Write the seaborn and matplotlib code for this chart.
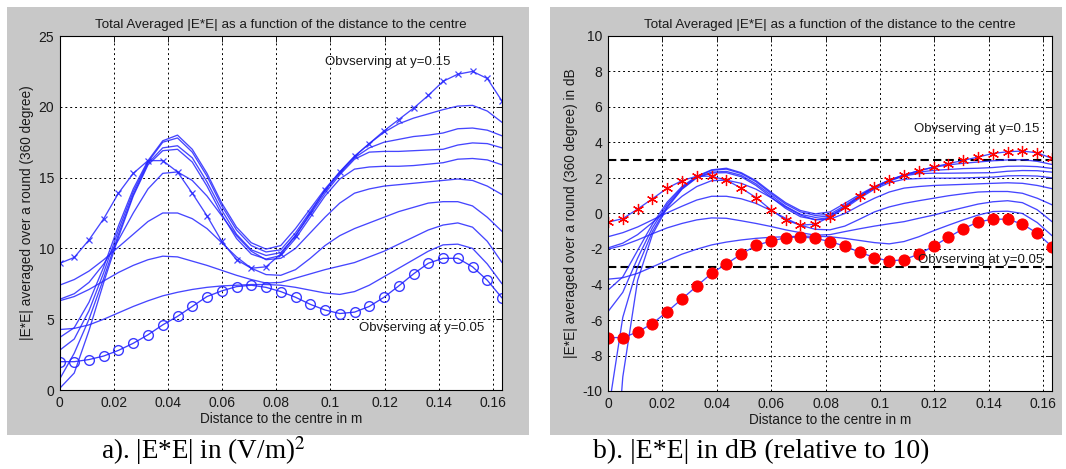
import matplotlib
matplotlib.use("Agg")
import matplotlib.pyplot as plt
import seaborn as sns
from matplotlib.patches import Rectangle

# ---------------- data ----------------
distance = [0.0, 0.00544, 0.01089, 0.01633, 0.02177, 0.02722, 0.03266, 0.0381,
            0.04355, 0.04899, 0.05443, 0.05988, 0.06532, 0.07077, 0.07621, 0.08165,
            0.0871, 0.09254, 0.09799, 0.10343, 0.10887, 0.11432, 0.11976, 0.1252,
            0.13065, 0.13609, 0.14154, 0.14698, 0.15242, 0.15787, 0.16331]

# panel a: |E*E| in (V/m)^2
lin_y015 = [8.94, 9.36, 10.6, 12.1, 13.9, 15.3, 16.2, 16.2, 15.4, 13.9, 12.3, 10.5, 9.2, 8.6, 8.7,
            9.6, 10.9, 12.5, 14.1, 15.4, 16.5, 17.4, 18.3, 19.1, 19.9, 20.8, 21.8, 22.3, 22.5, 22.0, 20.4]
lin_y005 = [2.0, 2.0, 2.15, 2.4, 2.8, 3.3, 3.9, 4.6, 5.2, 5.9, 6.6, 7.0, 7.3, 7.4, 7.25,
            6.95, 6.55, 6.05, 5.65, 5.4, 5.5, 5.9, 6.55, 7.35, 8.2, 8.95, 9.3, 9.3, 8.7, 7.75, 6.5]
lin_l1 = [3.7, 4.4, 6.2, 8.7, 11.6, 14.2, 16.2, 17.6, 18.0, 17.0, 15.3, 13.2, 11.5, 10.4, 9.95,
          10.2, 11.4, 12.8, 14.2, 15.4, 16.5, 17.4, 18.2, 18.8, 19.2, 19.5, 19.8, 20.05, 20.1, 19.7, 18.9]
lin_l2 = [2.8, 3.6, 5.6, 8.3, 11.3, 14.0, 16.1, 17.5, 17.8, 16.8, 15.1, 13.0, 11.3, 10.2, 9.75,
          9.9, 11.1, 12.6, 14.1, 15.3, 16.4, 17.1, 17.5, 17.7, 17.9, 18.0, 18.15, 18.45, 18.5, 18.35, 17.95]
lin_l3 = [0.75, 2.6, 5.0, 7.9, 11.0, 13.8, 16.0, 17.1, 17.25, 16.4, 14.7, 12.7, 11.0, 9.9, 9.5,
          9.7, 10.9, 12.4, 13.9, 15.2, 16.3, 16.8, 16.85, 16.85, 16.9, 16.95, 17.0, 17.3, 17.45, 17.4, 17.1]
lin_l4 = [0.1, 1.2, 4.2, 7.6, 10.8, 13.7, 15.9, 16.9, 17.0, 16.1, 14.4, 12.4, 10.7, 9.6, 9.25,
          9.5, 10.7, 12.2, 13.7, 14.9, 15.6, 15.75, 15.8, 15.8, 15.85, 15.95, 16.05, 16.3, 16.35, 16.25, 15.9]
lin_l5 = [6.4, 6.8, 7.6, 8.9, 10.6, 12.5, 14.2, 15.3, 15.4, 14.8, 13.7, 12.3, 10.9, 9.8, 9.2,
          9.3, 10.0, 11.1, 12.2, 13.2, 13.9, 14.2, 14.4, 14.5, 14.6, 14.7, 14.8, 14.9, 14.8, 14.4, 13.8]
lin_l6 = [7.4, 7.8, 8.4, 9.2, 10.1, 11.0, 11.9, 12.5, 12.5, 12.1, 11.4, 10.4, 9.4, 8.6, 8.15,
          8.1, 8.5, 9.3, 10.2, 10.9, 11.4, 11.8, 12.2, 12.6, 12.9, 13.2, 13.3, 13.3, 13.0, 12.2, 11.2]
lin_l7 = [6.3, 6.6, 7.1, 7.7, 8.3, 8.8, 9.2, 9.45, 9.4, 9.1, 8.8, 8.45, 8.1, 7.8, 7.55,
          7.6, 7.9, 8.2, 8.5, 8.75, 9.0, 9.4, 9.8, 10.3, 10.8, 11.3, 11.65, 11.8, 11.5, 10.5, 9.0]
lin_l8 = [4.27, 4.35, 4.6, 5.0, 5.45, 5.9, 6.3, 6.65, 6.9, 7.1, 7.25, 7.35, 7.4, 7.45, 7.45,
          7.4, 7.25, 7.05, 6.85, 6.75, 6.95, 7.4, 8.0, 8.6, 9.2, 9.8, 10.25, 10.3, 10.0, 8.9, 7.5]

# panel b: |E*E| in dB (relative to 10)
db_y015 = [-0.49, -0.29, 0.25, 0.83, 1.43, 1.85, 2.10, 2.10, 1.88, 1.43, 0.90, 0.21, -0.36, -0.66, -0.60,
           -0.18, 0.37, 0.97, 1.49, 1.88, 2.17, 2.41, 2.62, 2.81, 2.99, 3.18, 3.38, 3.48, 3.52, 3.42, 3.10]
db_y005 = [-6.99, -6.99, -6.68, -6.20, -5.53, -4.81, -4.09, -3.37, -2.84, -2.29, -1.80, -1.55, -1.37, -1.31, -1.40,
           -1.58, -1.84, -2.18, -2.48, -2.68, -2.60, -2.29, -1.84, -1.34, -0.86, -0.48, -0.32, -0.32, -0.60, -1.11, -1.87]
db_l1 = [-4.32, -3.57, -2.08, -0.60, 0.64, 1.52, 2.10, 2.46, 2.55, 2.30, 1.85, 1.21, 0.61, 0.17, -0.02,
         0.09, 0.57, 1.07, 1.52, 1.88, 2.17, 2.41, 2.60, 2.74, 2.83, 2.90, 2.97, 3.02, 3.03, 2.94, 2.76]
db_l2 = [-5.53, -4.44, -2.52, -0.81, 0.53, 1.46, 2.07, 2.43, 2.50, 2.25, 1.79, 1.14, 0.53, 0.09, -0.11,
         -0.04, 0.45, 1.00, 1.49, 1.85, 2.15, 2.33, 2.43, 2.48, 2.53, 2.55, 2.59, 2.66, 2.67, 2.64, 2.54]
db_l3 = [-11.25, -5.85, -3.01, -1.02, 0.41, 1.40, 2.04, 2.33, 2.37, 2.15, 1.67, 1.04, 0.41, -0.04, -0.22,
         -0.13, 0.37, 0.93, 1.43, 1.82, 2.12, 2.25, 2.27, 2.27, 2.28, 2.29, 2.30, 2.38, 2.42, 2.41, 2.33]
db_l4 = [-20.0, -9.21, -3.77, -1.19, 0.33, 1.37, 2.01, 2.28, 2.30, 2.07, 1.58, 0.93, 0.29, -0.18, -0.34,
         -0.22, 0.29, 0.86, 1.37, 1.73, 1.93, 1.97, 1.99, 1.99, 2.00, 2.03, 2.05, 2.12, 2.13, 2.11, 2.01]
db_l5 = [-1.94, -1.67, -1.19, -0.51, 0.25, 0.97, 1.52, 1.85, 1.88, 1.70, 1.37, 0.90, 0.37, -0.09, -0.36,
         -0.32, 0.00, 0.45, 0.86, 1.21, 1.43, 1.52, 1.58, 1.61, 1.64, 1.67, 1.70, 1.73, 1.70, 1.58, 1.40]
db_l6 = [-1.31, -1.08, -0.76, -0.36, 0.04, 0.41, 0.76, 0.97, 0.97, 0.83, 0.57, 0.17, -0.27, -0.66, -0.89,
         -0.92, -0.71, -0.32, 0.09, 0.37, 0.57, 0.72, 0.86, 1.00, 1.11, 1.21, 1.24, 1.24, 1.14, 0.86, 0.49]
db_l7 = [-2.01, -1.80, -1.49, -1.14, -0.81, -0.56, -0.36, -0.25, -0.27, -0.41, -0.56, -0.73, -0.92, -1.08, -1.22,
         -1.19, -1.02, -0.86, -0.71, -0.58, -0.46, -0.27, -0.09, 0.13, 0.33, 0.53, 0.66, 0.72, 0.61, 0.21, -0.46]
db_l8 = [-3.70, -3.62, -3.37, -3.01, -2.64, -2.29, -2.01, -1.77, -1.61, -1.49, -1.40, -1.34, -1.31, -1.28, -1.28,
         -1.31, -1.40, -1.52, -1.64, -1.71, -1.58, -1.31, -0.97, -0.66, -0.36, -0.09, 0.11, 0.13, 0.00, -0.51, -1.25]
db_limits = [3, -3]

x_ticks = [0, 0.02, 0.04, 0.06, 0.08, 0.10, 0.12, 0.14, 0.16]
x_tick_labels = ["0", "0.02", "0.04", "0.06", "0.08", "0.1", "0.12", "0.14", "0.16"]
lin_ticks = [0, 5, 10, 15, 20, 25]
db_ticks = [-10, -8, -6, -4, -2, 0, 2, 4, 6, 8, 10]

title = "Total Averaged |E*E| as a function of the distance to the centre"
xlabel = "Distance to the centre in m"
ylabel_a = "|E*E| averaged over a round (360 degree)"
ylabel_b = "|E*E| averaged over a round (360 degree) in dB"
note_hi = "Obvserving at y=0.15"
note_lo = "Obvserving at y=0.05"
caption_a = "a). |E*E| in (V/m)$^2$"
caption_b = "b). |E*E| in dB (relative to 10)"

# ---------------- style ----------------
sns.set_theme(style="white")
plt.rcParams['font.family'] = ['Liberation Sans', 'DejaVu Sans']
plt.rcParams['axes.unicode_minus'] = False
plt.rcParams['mathtext.fontset'] = 'stix'

W, H = 1066, 469
fig = plt.figure(figsize=(W / 100, H / 100), dpi=100)
fig.patch.set_facecolor('white')
GRAY = '#c8c8c8'
fig.add_artist(Rectangle((7 / W, (H - 435) / H), (529 - 7) / W, (435 - 7) / H,
                         transform=fig.transFigure, facecolor=GRAY, edgecolor='none', zorder=-5))
fig.add_artist(Rectangle((550 / W, (H - 435) / H), (1062 - 550) / W, (435 - 7) / H,
                         transform=fig.transFigure, facecolor=GRAY, edgecolor='none', zorder=-5))

axA = fig.add_axes([59.5 / W, (H - 390) / H, 442.5 / W, 354 / H])
axB = fig.add_axes([608 / W, (H - 391) / H, 444 / W, 355 / H])

BLUE = (0.15, 0.15, 1.0)
LW = 0.95
TXT = '#1a1a1a'


def style_axes(ax, yticks, ylabel, ylim):
    ax.set_facecolor('white')
    ax.set_xlim(0, 0.1633)
    ax.set_ylim(*ylim)
    ax.set_xticks(x_ticks, x_tick_labels)
    ax.set_yticks(yticks, [str(t) for t in yticks])
    ax.grid(True, color='black', linestyle=(0, (2, 3)), linewidth=0.7)
    for s in ax.spines.values():
        s.set_color('black')
        s.set_linewidth(0.8)
    ax.tick_params(direction='in', length=4, width=0.7, colors=TXT, labelsize=10,
                   top=True, right=True, pad=4)
    ax.set_title(title, fontsize=9.6, pad=6, color=TXT)
    ax.set_xlabel(xlabel, fontsize=9.8, labelpad=2, color=TXT)
    ax.set_ylabel(ylabel, fontsize=9.8, labelpad=3, color=TXT)


# ---------------- panel a ----------------
for vals in [lin_l1, lin_l2, lin_l3, lin_l4, lin_l5, lin_l6, lin_l7, lin_l8]:
    sns.lineplot(x=distance, y=vals, ax=axA, color=BLUE, linewidth=LW, alpha=0.85,
                 estimator=None, sort=False)
sns.lineplot(x=distance, y=lin_y015, ax=axA, color=BLUE, linewidth=LW, alpha=0.85,
             estimator=None, sort=False, marker='x', markersize=5, markeredgewidth=0.9,
             markeredgecolor=BLUE)
sns.lineplot(x=distance, y=lin_y005, ax=axA, color=BLUE, linewidth=LW, alpha=0.9,
             estimator=None, sort=False, marker='o', markersize=7, markerfacecolor='none',
             markeredgewidth=1.0, markeredgecolor=BLUE)
style_axes(axA, lin_ticks, ylabel_a, (0, 25))
axA.text(0.098, 23.13, note_hi, fontsize=9.5, va='center', ha='left', color=TXT)
axA.text(0.1106, 4.35, note_lo, fontsize=9.5, va='center', ha='left', color=TXT)

# ---------------- panel b ----------------
for lvl in db_limits:
    axB.axhline(lvl, color='black', linewidth=1.5, linestyle=(0, (4, 2)), zorder=2)
for vals in [db_l1, db_l2, db_l3, db_l4, db_l5, db_l6, db_l7, db_l8]:
    sns.lineplot(x=distance, y=vals, ax=axB, color=BLUE, linewidth=LW, alpha=0.85,
                 estimator=None, sort=False)
sns.lineplot(x=distance, y=db_y015, ax=axB, color=BLUE, linewidth=LW, alpha=0.85,
             estimator=None, sort=False)
sns.lineplot(x=distance, y=db_y005, ax=axB, color=BLUE, linewidth=LW, alpha=0.85,
             estimator=None, sort=False)
sns.lineplot(x=distance, y=db_y015, ax=axB, color='red', linestyle='', estimator=None, sort=False,
             marker=(6, 2, 0), markersize=8, markeredgewidth=0.9, markeredgecolor='red')
sns.lineplot(x=distance, y=db_y005, ax=axB, color='red', linestyle='', estimator=None, sort=False,
             marker='o', markersize=8, markeredgecolor='red', markerfacecolor='red')
style_axes(axB, db_ticks, ylabel_b, (-10, 10))
axB.text(0.1124, 4.74, note_hi, fontsize=9.5, va='center', ha='left', color=TXT)
axB.text(0.114, -2.62, note_lo, fontsize=9.5, va='center', ha='left', color=TXT)

# ---------------- captions ----------------
fig.text(203 / W, (H - 451) / H, caption_a, family='Liberation Serif', fontsize=19.5,
         ha='center', va='center', color='black')
fig.text(761 / W, (H - 451) / H, caption_b, family='Liberation Serif', fontsize=20,
         ha='center', va='center', color='black')

fig.savefig('out.png', dpi=100, facecolor='white')
